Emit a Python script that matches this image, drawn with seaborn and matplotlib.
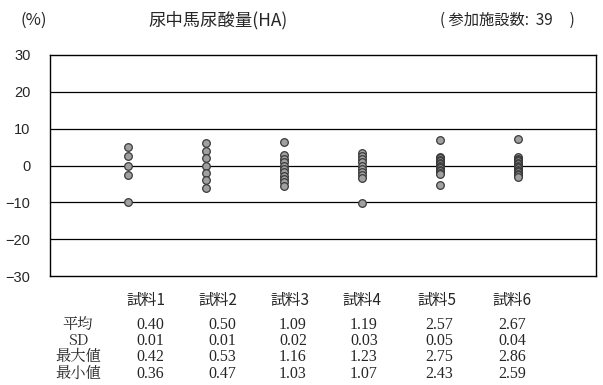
import matplotlib
matplotlib.use("Agg")
import matplotlib.pyplot as plt
import seaborn as sns
import pandas as pd
import numpy as np

samples = ["試料1", "試料2", "試料3", "試料4", "試料5", "試料6"]
# deviation (%) from the mean for each reported value
dev1 = [5.0, 2.5, 0.0, -2.5, -10.0]
dev2 = [6.0, 4.0, 2.0, 0.0, -2.0, -4.0, -6.0]
dev3 = [6.4, 2.75, 1.83, 0.92, 0.0, -0.92, -1.83, -2.75, -3.67, -4.59, -5.5]
dev4 = [3.36, 2.52, 1.68, 0.84, 0.0, -0.84, -1.68, -2.52, -3.36, -10.1]
dev5 = [7.0, 2.33, 1.95, 1.56, 1.17, 0.78, 0.39, 0.0, -0.39, -0.78, -1.17, -1.56, -1.95, -2.33, -5.4]
dev6 = [7.1, 2.25, 1.87, 1.5, 1.12, 0.75, 0.37, 0.0, -0.37, -0.75, -1.12, -1.5, -1.87, -2.25, -2.62, -3.0]

row_labels = ["平均", "SD", "最大値", "最小値"]
mean_vals = ["0.40", "0.50", "1.09", "1.19", "2.57", "2.67"]
sd_vals = ["0.01", "0.01", "0.02", "0.03", "0.05", "0.04"]
max_vals = ["0.42", "0.53", "1.16", "1.23", "2.75", "2.86"]
min_vals = ["0.36", "0.47", "1.03", "1.07", "2.43", "2.59"]
yticks = [30, 20, 10, 0, -10, -20, -30]

devs = [dev1, dev2, dev3, dev4, dev5, dev6]
df = pd.DataFrame({
    "sample": [s for s, d in zip(samples, devs) for _ in d],
    "dev": [v for d in devs for v in d],
})

sns.set_theme(style="white")
plt.rcParams["font.family"] = ["Noto Sans CJK JP", "DejaVu Sans"]

W, H = 603, 385
fig = plt.figure(figsize=(W / 100, H / 100), dpi=100)
ax = fig.add_axes([50 / W, 1 - 276 / H, (596 - 50) / W, (276 - 55) / H])

sns.stripplot(data=df, x="sample", y="dev", order=samples, jitter=False,
              color="#a0a0a0", edgecolor="#3a3a3a", linewidth=0.9, size=5.5,
              ax=ax, zorder=3)

ax.set_xlim(-1, 6)
ax.set_ylim(-30, 30)
ax.set_yticks(yticks)
ax.set_yticklabels([f"{t:d}".replace("-", "−") for t in yticks],
                   family=["Liberation Sans"], fontsize=10.5)
ax.tick_params(axis="y", length=0, pad=14)
ax.set_xticks([])
ax.set_xlabel("")
ax.set_ylabel("")
for t in [20, 10, 0, -10, -20]:
    ax.axhline(t, color="black", lw=0.9, zorder=1)
for s in ax.spines.values():
    s.set_color("black")
    s.set_linewidth(1.0)

def fx(px):
    return px / W

def fy(py):
    return 1 - py / H

fig.text(fx(20), fy(20), "(%)", fontsize=12, va="center", ha="left")
fig.text(fx(148), fy(20), "尿中馬尿酸量(HA)", fontsize=12.5, va="center", ha="left")
fig.text(fx(440), fy(20), "( 参加施設数:  39     )", fontsize=11, va="center", ha="left")

hdr_x = [146, 218, 290, 362, 437, 512]
val_x = [150, 222, 293, 364, 439, 512]
for s, x in zip(samples, hdr_x):
    fig.text(fx(x), fy(300), s, fontsize=11, ha="center", va="center")

rows = [mean_vals, sd_vals, max_vals, min_vals]
row_y = [325, 341, 357, 374]
for lab, vals, y in zip(row_labels, rows, row_y):
    fig.text(fx(78), fy(y), lab, fontsize=11, ha="center", va="center",
             family=["Noto Serif CJK JP", "Noto Sans CJK JP", "DejaVu Sans"])
    for v, x in zip(vals, val_x):
        fig.text(fx(x), fy(y), v, fontsize=11.5, ha="center", va="center",
                 family=["Liberation Serif", "DejaVu Serif"])

fig.savefig("out.png", dpi=100)
